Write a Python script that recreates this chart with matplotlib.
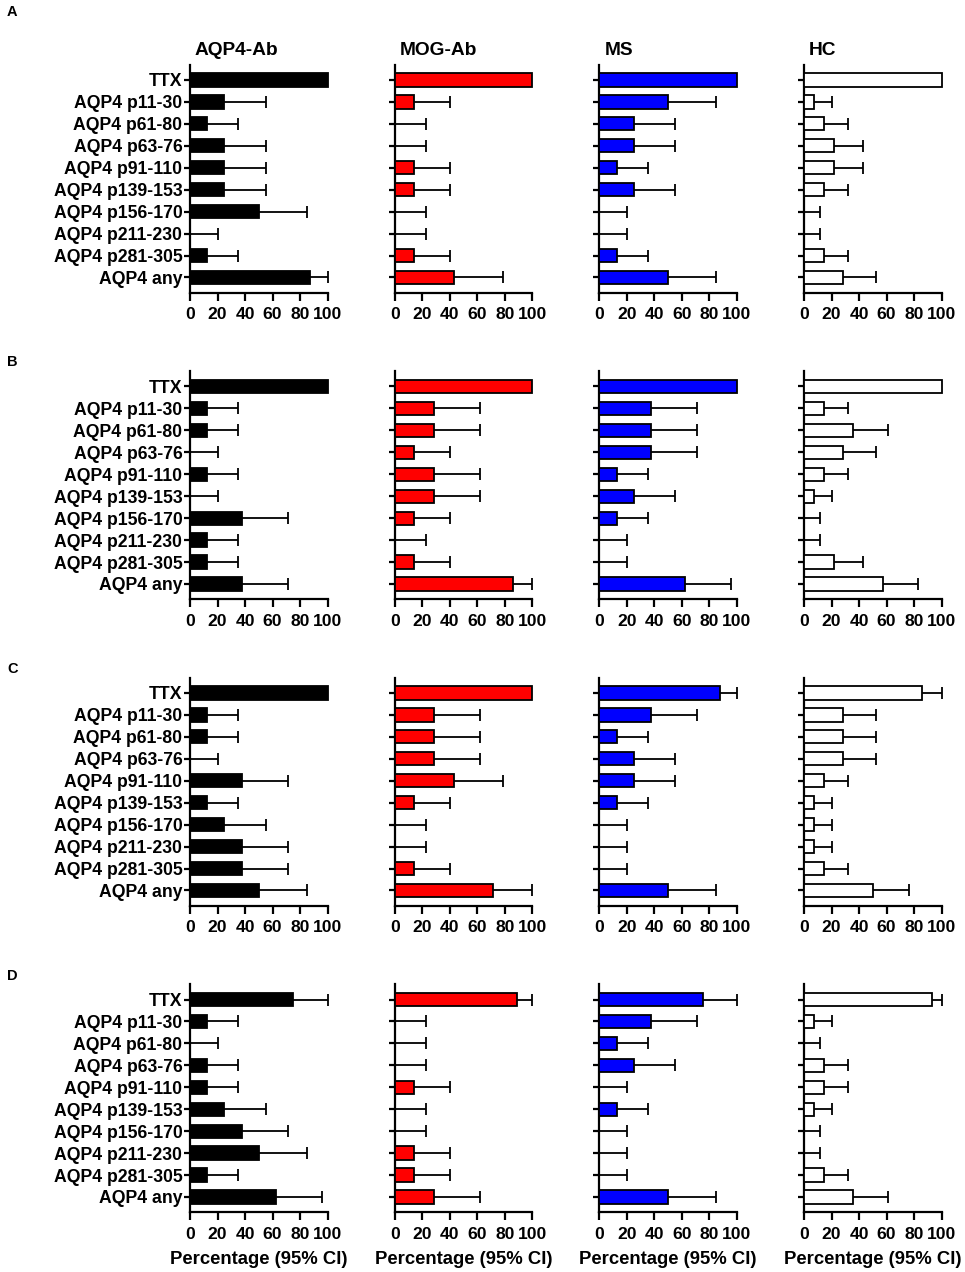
import matplotlib
matplotlib.use("Agg")
import matplotlib.pyplot as plt
import numpy as np

plt.rcParams['font.family'] = ['Liberation Sans', 'DejaVu Sans']
plt.rcParams['font.weight'] = 'bold'

categories = ["TTX", "AQP4 p11-30", "AQP4 p61-80", "AQP4 p63-76", "AQP4 p91-110",
              "AQP4 p139-153", "AQP4 p156-170", "AQP4 p211-230", "AQP4 p281-305", "AQP4 any"]
groups = ["AQP4-Ab", "MOG-Ab", "MS", "HC"]
panel_letters = ["A", "B", "C", "D"]
group_colors = ["#000000", "#FF0000", "#0000FF", "#FFFFFF"]
xticks = [0, 20, 40, 60, 80, 100]
xlabel = "Percentage (95% CI)"

# Row A
A_aqp4 = [100, 25, 12.5, 25, 25, 25, 50, 0, 12.5, 87.5]
A_aqp4_up = [100, 55, 35, 55, 55, 55, 85, 20, 35, 100]
A_mog = [100, 14.3, 0, 0, 14.3, 14.3, 0, 0, 14.3, 42.9]
A_mog_up = [100, 40, 22.5, 22.5, 40, 40, 22.5, 22.5, 40, 79]
A_ms = [100, 50, 25, 25, 12.5, 25, 0, 0, 12.5, 50]
A_ms_up = [100, 85, 55, 55, 35, 55, 20, 20, 35, 85]
A_hc = [100, 7.1, 14.3, 21.4, 21.4, 14.3, 0, 0, 14.3, 28.6]
A_hc_up = [100, 20, 32, 42.5, 42.5, 32, 11.5, 11.5, 32, 52]

# Row B
B_aqp4 = [100, 12.5, 12.5, 0, 12.5, 0, 37.5, 12.5, 12.5, 37.5]
B_aqp4_up = [100, 35, 35, 20, 35, 20, 71, 35, 35, 71]
B_mog = [100, 28.6, 28.6, 14.3, 28.6, 28.6, 14.3, 0, 14.3, 85.7]
B_mog_up = [100, 62, 62, 40, 62, 62, 40, 22.5, 40, 100]
B_ms = [100, 37.5, 37.5, 37.5, 12.5, 25, 12.5, 0, 0, 62.5]
B_ms_up = [100, 71, 71, 71, 35, 55, 35, 20, 20, 96]
B_hc = [100, 14.3, 35.7, 28.6, 14.3, 7.1, 0, 0, 21.4, 57.1]
B_hc_up = [100, 32, 61, 52, 32, 20, 11.5, 11.5, 42.5, 83]

# Row C
C_aqp4 = [100, 12.5, 12.5, 0, 37.5, 12.5, 25, 37.5, 37.5, 50]
C_aqp4_up = [100, 35, 35, 20, 71, 35, 55, 71, 71, 85]
C_mog = [100, 28.6, 28.6, 28.6, 42.9, 14.3, 0, 0, 14.3, 71.4]
C_mog_up = [100, 62, 62, 62, 79, 40, 22.5, 22.5, 40, 100]
C_ms = [87.5, 37.5, 12.5, 25, 25, 12.5, 0, 0, 0, 50]
C_ms_up = [100, 71, 35, 55, 55, 35, 20, 20, 20, 85]
C_hc = [85.7, 28.6, 28.6, 28.6, 14.3, 7.1, 7.1, 7.1, 14.3, 50]
C_hc_up = [100, 52, 52, 52, 32, 20, 20, 20, 32, 76]

# Row D
D_aqp4 = [75, 12.5, 0, 12.5, 12.5, 25, 37.5, 50, 12.5, 62.5]
D_aqp4_up = [100, 35, 20, 35, 35, 55, 71, 85, 35, 96]
D_mog = [89, 0, 0, 0, 14.3, 0, 0, 14.3, 14.3, 28.6]
D_mog_up = [100, 22.5, 22.5, 22.5, 40, 22.5, 22.5, 40, 40, 62]
D_ms = [75, 37.5, 12.5, 25, 0, 12.5, 0, 0, 0, 50]
D_ms_up = [100, 71, 35, 55, 20, 35, 20, 20, 20, 85]
D_hc = [92.9, 7.1, 0, 14.3, 14.3, 7.1, 0, 0, 14.3, 35.7]
D_hc_up = [100, 20, 11.5, 32, 32, 20, 11.5, 11.5, 32, 61]

rows = [
    [(A_aqp4, A_aqp4_up), (A_mog, A_mog_up), (A_ms, A_ms_up), (A_hc, A_hc_up)],
    [(B_aqp4, B_aqp4_up), (B_mog, B_mog_up), (B_ms, B_ms_up), (B_hc, B_hc_up)],
    [(C_aqp4, C_aqp4_up), (C_mog, C_mog_up), (C_ms, C_ms_up), (C_hc, C_hc_up)],
    [(D_aqp4, D_aqp4_up), (D_mog, D_mog_up), (D_ms, D_ms_up), (D_hc, D_hc_up)],
]

W, H = 965, 1272
fig = plt.figure(figsize=(W / 100, H / 100), dpi=100)

spacing_px = 21.94
ytop, ybot = -0.7, 9.7
ax_h = (ybot - ytop) * spacing_px
ax_w = 137.5
lw = 1.6
cat_fs = 12.7
num_fs = 12.6

y = np.arange(len(categories))

for r, row in enumerate(rows):
    ttx_y = 80 + 306.5 * r
    top_px = ttx_y + ytop * spacing_px
    for c, (vals, ups) in enumerate(row):
        left_px = 190 + 204.7 * c
        ax = fig.add_axes([left_px / W, 1 - (top_px + ax_h) / H, ax_w / W, ax_h / H])
        vals = np.array(vals, dtype=float)
        ups = np.array(ups, dtype=float)
        # error bars (upper only)
        mask = ups > vals + 0.01
        ax.hlines(y[mask], vals[mask], ups[mask], color="black", lw=1.3, zorder=2, clip_on=False)
        ax.plot(ups[mask], y[mask], ls="none", marker="|", ms=8, mew=1.3, color="black",
                zorder=2, clip_on=False)
        ax.barh(y, vals, height=0.6, color=group_colors[c], edgecolor="black",
                linewidth=1.3, zorder=3, clip_on=False)
        ax.set_xlim(0, 100)
        ax.set_ylim(ybot, ytop)
        ax.set_xticks(xticks)
        ax.set_xticklabels([str(t) for t in xticks], fontsize=num_fs, fontweight="bold")
        ax.set_yticks(y)
        if c == 0:
            ax.set_yticklabels(categories, fontsize=cat_fs, fontweight="bold")
        else:
            ax.set_yticklabels([])
        ax.tick_params(axis="x", direction="out", length=6, width=lw, pad=4.5)
        ax.tick_params(axis="y", direction="out", length=4, width=lw, pad=1.5)
        for s in ["top", "right"]:
            ax.spines[s].set_visible(False)
        for s in ["left", "bottom"]:
            ax.spines[s].set_linewidth(lw)
        ax.set_facecolor("none")
        if r == 0:
            fig.text((left_px + 5) / W, 1 - 50.7 / H, groups[c], fontsize=13.8,
                     fontweight="bold", ha="left", va="center")
        if r == len(rows) - 1:
            fig.text((left_px + ax_w / 2) / W, 1 - 1259 / H, xlabel, fontsize=13.3,
                     fontweight="bold", ha="center", va="center")
    letter_y = 12 if r == 0 else ttx_y - 24
    fig.text(7 / W, 1 - letter_y / H, panel_letters[r], fontsize=10.5, fontweight="bold",
             ha="left", va="center")

fig.savefig("out.png", dpi=100, facecolor="white")
